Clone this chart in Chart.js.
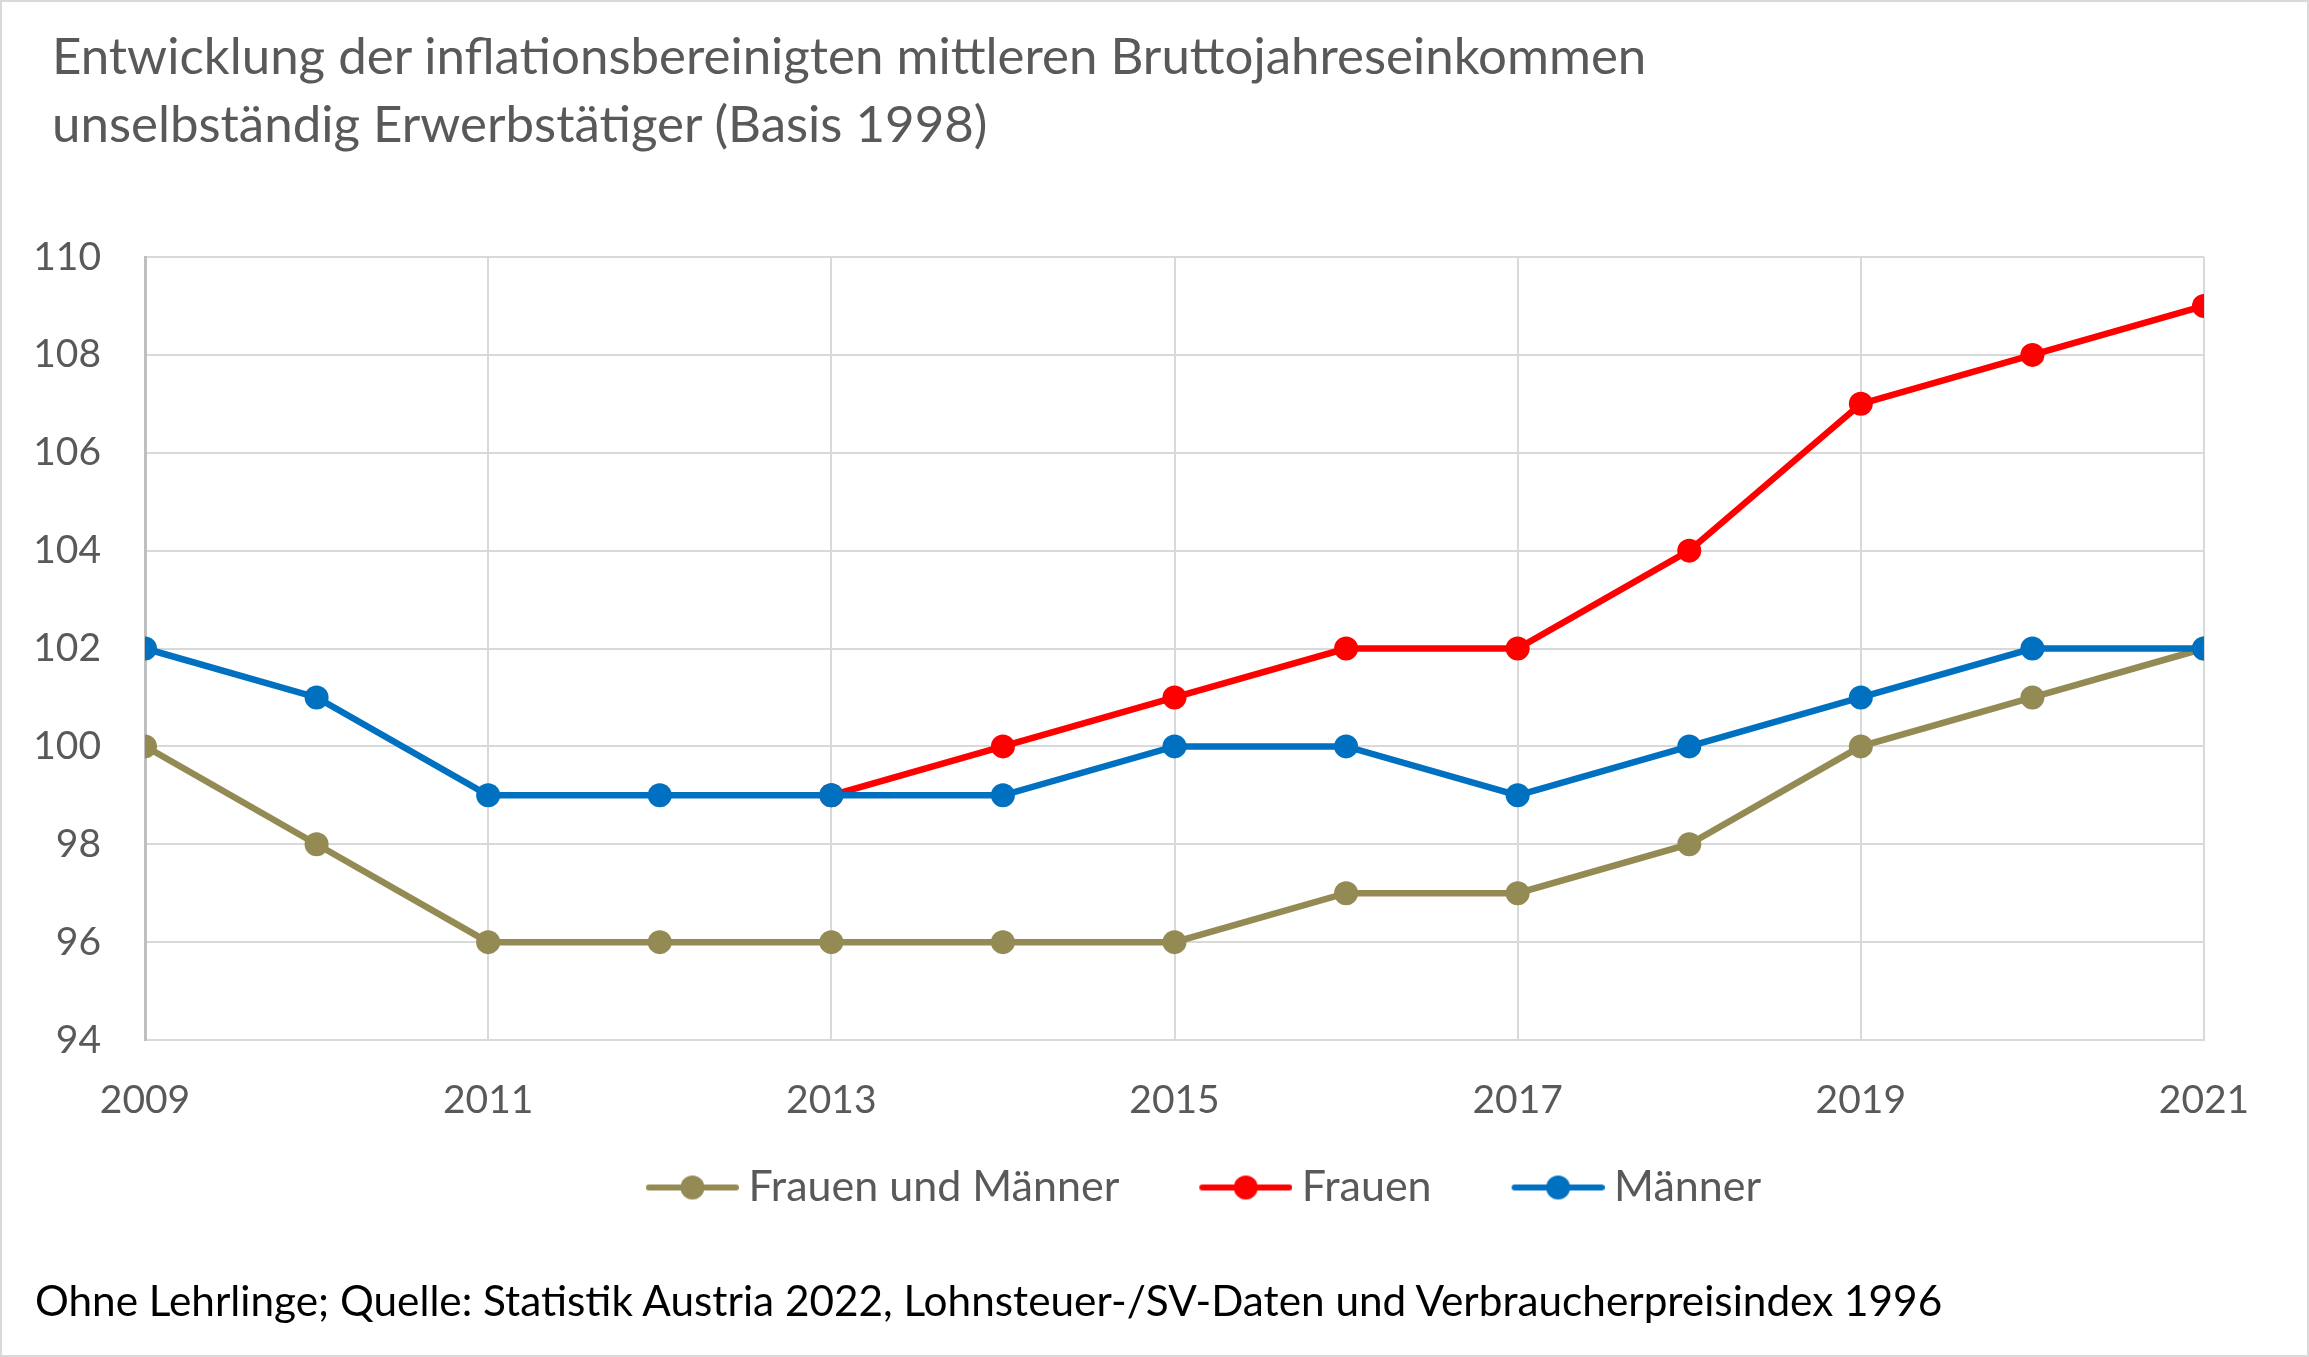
<!DOCTYPE html>
<html>
<head>
<meta charset="utf-8">
<script src="https://cdn.jsdelivr.net/npm/chart.js@4/dist/chart.umd.min.js"></script>
<style>
    html, body { margin: 0; padding: 0; background: #fff; }
    #wrap { position: relative; width: 2309px; height: 1357px; overflow: hidden; }
    #wrap canvas { position: absolute; left: 0; top: 0; }
    #frame { position: absolute; left: 0; top: 0; right: 0; bottom: 0; border: 2px solid #d9d9d9; pointer-events: none; }
    .title { position: absolute; left: 52px; top: 21px; font: 51px/68px Lato, sans-serif; color: #595959; white-space: nowrap; }
    .note { position: absolute; left: 35px; top: 1277px; font: 42.3px/46px Lato, sans-serif; color: #000; white-space: nowrap; }
</style>
</head>
<body>
<div id="wrap">
    <canvas id="chart" width="2309" height="1357"></canvas>
    <div class="title" id="title"></div>
    <div class="note" id="note"></div>
    <div id="frame"></div>
</div>
<script>
"use strict";

const TITLE_LINES = [
    "Entwicklung der inflationsbereinigten mittleren Bruttojahreseinkommen",
    "unselbständig Erwerbstätiger (Basis 1998)"
];
const NOTE = "Ohne Lehrlinge; Quelle: Statistik Austria 2022, Lohnsteuer-/SV-Daten und Verbraucherpreisindex 1996";

const years = [2009, 2010, 2011, 2012, 2013, 2014, 2015, 2016, 2017, 2018, 2019, 2020, 2021];
const frauenUndMaenner = [100, 98, 96, 96, 96, 96, 96, 97, 97, 98, 100, 101, 102];
const frauen = [null, null, null, null, 99, 100, 101, 102, 102, 104, 107, 108, 109];
const maenner = [102, 101, 99, 99, 99, 99, 100, 100, 99, 100, 101, 102, 102];

const seriesNames = ["Frauen und Männer", "Frauen", "Männer"];
const seriesColors = ["#948a54", "#ff0000", "#0070c0"];

const yMin = 94, yMax = 110, yStep = 2;
const xStep = 2;

const COLOR_TEXT = "#595959";
const COLOR_GRID = "#d9d9d9";
const FONT = "Lato, sans-serif";
const TICK_SIZE = 39;

document.getElementById("title").innerHTML = TITLE_LINES.join("<br>");
document.getElementById("note").textContent = NOTE;

const points = values => years.map((x, i) => ({x, y: values[i]}));

// line with a dot, like the legend keys in the office chart
// (transparent room on the left gives the spacing between items)
const LEGEND_GAP = 70;
const legendKey = color => {
    const c = document.createElement("canvas");
    c.width = LEGEND_GAP + 93;
    c.height = 26;
    const g = c.getContext("2d");
    g.strokeStyle = color;
    g.lineWidth = 6;
    g.lineCap = "round";
    g.beginPath();
    g.moveTo(LEGEND_GAP + 3, 13);
    g.lineTo(LEGEND_GAP + 90, 13);
    g.stroke();
    g.fillStyle = color;
    g.beginPath();
    g.arc(LEGEND_GAP + 46.5, 13, 12, 0, Math.PI * 2);
    g.fill();
    return c;
};
const legendKeys = seriesColors.map(legendKey);

const datasets = [frauenUndMaenner, frauen, maenner].map((values, i) => ({
    label: seriesNames[i],
    data: points(values),
    borderColor: seriesColors[i],
    backgroundColor: seriesColors[i],
    borderWidth: 6.5,
    pointRadius: 12,
    pointHoverRadius: 12,
    pointBorderWidth: 0,
    order: 3 - i
}));

new Chart(document.getElementById("chart"), {
    type: "line",
    data: {datasets},
    options: {
        responsive: false,
        animation: false,
        devicePixelRatio: 1,
        layout: {
            padding: {left: 0, right: 105, top: 257, bottom: 138}
        },
        plugins: {
            tooltip: {enabled: false},
            legend: {
                position: "bottom",
                fullSize: false,
                labels: {
                    usePointStyle: true,
                    pointStyleWidth: legendKeys[0].width - 24,
                    padding: 22,
                    color: COLOR_TEXT,
                    font: {family: FONT, size: 43},
                    generateLabels: chart => chart.data.datasets.map((ds, i) => ({
                        text: ds.label,
                        fillStyle: ds.borderColor,
                        strokeStyle: ds.borderColor,
                        fontColor: COLOR_TEXT,
                        lineWidth: 0,
                        pointStyle: legendKeys[i],
                        hidden: false,
                        datasetIndex: i
                    }))
                }
            }
        },
        scales: {
            x: {
                type: "linear",
                min: years[0],
                max: years[years.length - 1],
                afterFit: scale => { scale.height = 104; },
                grid: {color: COLOR_GRID, lineWidth: 2, drawTicks: false},
                border: {color: COLOR_GRID, width: 2},
                ticks: {
                    stepSize: xStep,
                    padding: 37,
                    color: COLOR_TEXT,
                    font: {family: FONT, size: TICK_SIZE},
                    callback: v => String(v)
                }
            },
            y: {
                min: yMin,
                max: yMax,
                afterFit: scale => { scale.width = 145; },
                grid: {color: COLOR_GRID, lineWidth: 2, drawTicks: false},
                border: {color: "#bfbfbf", width: 3},
                ticks: {
                    stepSize: yStep,
                    padding: 44,
                    color: COLOR_TEXT,
                    font: {family: FONT, size: TICK_SIZE}
                }
            }
        }
    }
});
</script>
</body>
</html>
